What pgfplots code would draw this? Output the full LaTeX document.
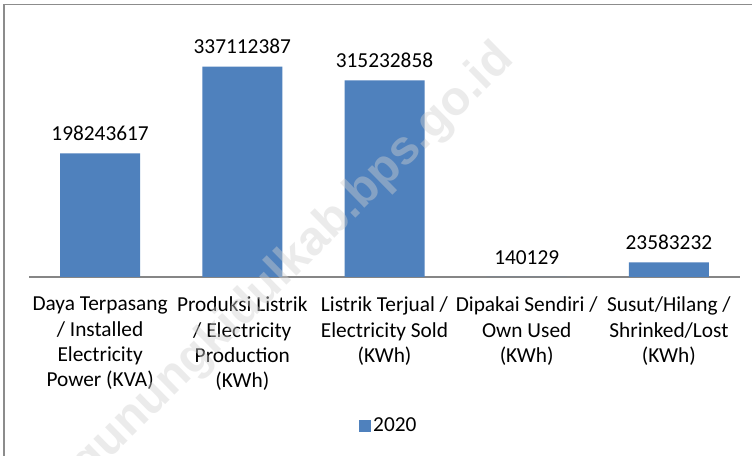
\documentclass[border=0pt]{standalone}
\usepackage{fontspec}
\setmainfont{Carlito}
\newfontfamily\wmfont{Liberation Sans}
\usepackage{pgfplots}
\pgfplotsset{compat=1.18}
\definecolor{barblue}{HTML}{4F81BD}
\definecolor{axgray}{HTML}{868686}
\definecolor{framegray}{HTML}{8C8C8C}
\definecolor{wm}{HTML}{D0D0D0}
\begin{document}
\begin{tikzpicture}
\clip (0,0) rectangle (564pt,342pt);
\fill[white] (0,0) rectangle (564pt,342pt);
\draw[framegray, line width=1.1pt] (3pt,-2pt) -- (3pt,338.8pt) -- (566pt,338.8pt);
\begin{axis}[
  at={(21.75pt,134.25pt)}, anchor=south west,
  scale only axis, width=533.25pt, height=192.75pt,
  xmin=-0.5, xmax=4.5, ymin=0, ymax=412e6,
  ybar, bar width=60pt,
  hide y axis,
  axis x line*=bottom,
  x axis line style={axgray, line width=1pt, -},
  xtick={0,1,2,3,4}, major tick length=0pt,
  xticklabels={{Daya Terpasang\\/ Installed\\Electricity\\Power (KVA)},
               {Produksi Listrik\\/ Electricity\\Production\\(KWh)},
               {Listrik Terjual /\\Electricity Sold\\(KWh)},
               {Dipakai Sendiri /\\Own Used\\(KWh)},
               {Susut/Hilang /\\Shrinked/Lost\\(KWh)}},
  xticklabel style={align=center, font=\fontsize{16}{19}\selectfont, yshift=-11.5pt},
  point meta=explicit symbolic,
  nodes near coords={\pgfplotspointmeta},
  nodes near coords style={font=\fontsize{16}{18.75}\selectfont, black, yshift=6pt},
  legend style={at={(0.5061,-0.5798)}, anchor=center, draw=none, fill=none,
    font=\fontsize{16}{18.75}\selectfont},
  legend image code/.code={\fill[barblue] (-3pt,-4.5pt) rectangle (6pt,4.5pt);},
  legend cell align=left,
]
\addplot[fill=barblue, draw=none] coordinates {
  (0,198243617) [198243617]
  (1,337112387) [337112387]
  (2,315232858) [315232858]
  (3,140129) [140129]
  (4,23583232) [23583232]
};
\legend{2020}
\end{axis}
\node[rotate=44.5, font=\wmfont\bfseries\fontsize{36}{36}\selectfont, text=wm, opacity=0.42] at (220pt,145.5pt) {gunungkidulkab.bps.go.id};
\end{tikzpicture}
\end{document}
